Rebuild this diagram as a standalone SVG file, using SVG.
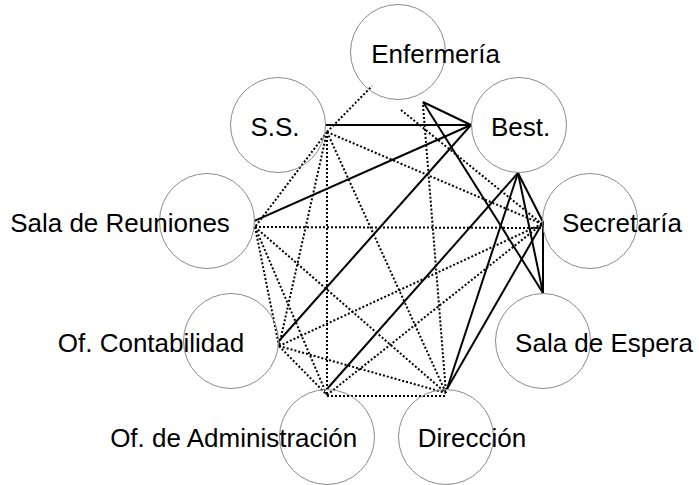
<svg xmlns="http://www.w3.org/2000/svg" width="699" height="485" viewBox="0 0 699 485">
<style>
.node circle{fill:none;stroke:#8a8a8a;stroke-width:1}
.node text{font-family:"Liberation Sans",Arial,sans-serif;font-size:26px;fill:#000;text-anchor:middle}
.s{stroke:#000;stroke-width:2;fill:none}
.d{stroke:#000;stroke-width:2;fill:none;stroke-dasharray:2 2}
</style>
<rect width="699" height="485" fill="#fff"/>
<g id="connectors">
<line class="d" x1="327" y1="132" x2="372" y2="86"/>
<line class="d" x1="327" y1="132" x2="542" y2="224"/>
<line class="d" x1="327" y1="132" x2="446" y2="393"/>
<line class="d" x1="327" y1="132" x2="327" y2="395"/>
<line class="d" x1="327" y1="132" x2="279" y2="346"/>
<line class="d" x1="327" y1="132" x2="255" y2="227"/>
<line class="d" x1="255" y1="227" x2="542" y2="228"/>
<line class="d" x1="255" y1="227" x2="446" y2="393"/>
<line class="d" x1="255" y1="227" x2="327" y2="395"/>
<line class="d" x1="255" y1="227" x2="279" y2="346"/>
<line class="d" x1="279" y1="346" x2="542" y2="224"/>
<line class="d" x1="279" y1="346" x2="327" y2="395"/>
<line class="d" x1="279" y1="346" x2="446" y2="393"/>
<line class="d" x1="327" y1="396" x2="446" y2="396"/>
<line class="d" x1="327" y1="395" x2="542" y2="224"/>
<line class="d" x1="423" y1="105" x2="446" y2="393"/>
<line class="d" x1="401" y1="110" x2="542" y2="224"/>
<line class="s" x1="326" y1="125" x2="471" y2="125"/>
<line class="s" x1="423" y1="102" x2="471" y2="125"/>
<line class="s" x1="254" y1="221" x2="471" y2="125"/>
<line class="s" x1="278" y1="342" x2="471" y2="125"/>
<line class="s" x1="423" y1="102" x2="543" y2="293"/>
<line class="s" x1="518" y1="173" x2="543" y2="222"/>
<line class="s" x1="518" y1="173" x2="327" y2="389"/>
<line class="s" x1="518" y1="173" x2="447" y2="389"/>
<line class="s" x1="518" y1="173" x2="543" y2="293"/>
<line class="s" x1="543" y1="222" x2="543" y2="293"/>
<line class="s" x1="543" y1="222" x2="447" y2="389"/>
</g>
<g id="enfermeria" class="node"><circle cx="398" cy="52" r="47.5"/><text x="435.6" y="63">Enfermería</text></g>
<g id="ss" class="node"><circle cx="278" cy="125" r="47.5"/><text x="275" y="136">S.S.</text></g>
<g id="best" class="node"><circle cx="519" cy="125" r="47.5"/><text x="520.6" y="136">Best.</text></g>
<g id="secretaria" class="node"><circle cx="590" cy="221" r="47.5"/><text x="622" y="232">Secretaría</text></g>
<g id="sala-reuniones" class="node"><circle cx="207" cy="221" r="47.5"/><text x="120" y="232">Sala de Reuniones</text></g>
<g id="of-contabilidad" class="node"><circle cx="231" cy="341" r="47.5"/><text x="151" y="352">Of. Contabilidad</text></g>
<g id="sala-espera" class="node"><circle cx="543" cy="341" r="47.5"/><text x="604" y="352">Sala de Espera</text></g>
<g id="of-administracion" class="node"><circle cx="327" cy="437" r="47.5"/><text x="233.7" y="447">Of. de Administración</text></g>
<g id="direccion" class="node"><circle cx="446" cy="437" r="47.5"/><text x="472" y="447">Dirección</text></g>
</svg>
